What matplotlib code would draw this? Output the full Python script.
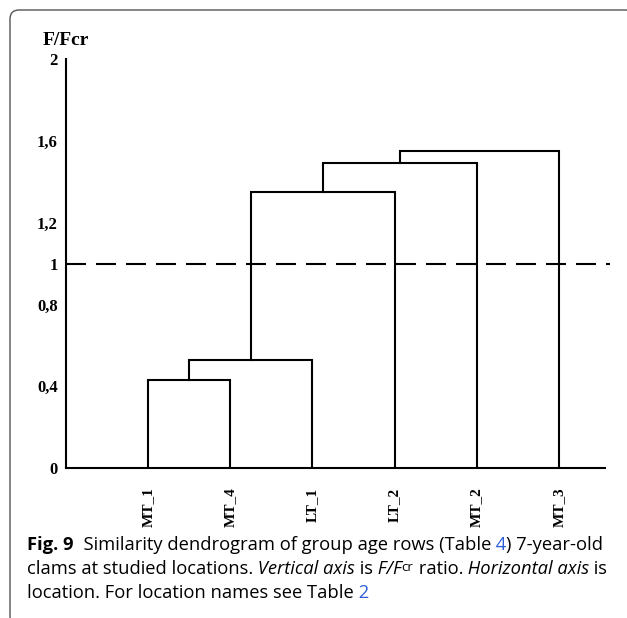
import matplotlib.pyplot as plt
from matplotlib.patches import FancyBboxPatch
from matplotlib.transforms import IdentityTransform

W, H = 627, 618

# leaves in dendrogram order and the merges (left id, right id, height)
leaves = ['MT_1', 'MT_4', 'LT_1', 'LT_2', 'MT_2', 'MT_3']
merges = [(0, 1, 0.43), (6, 2, 0.53), (7, 3, 1.35), (8, 4, 1.49), (9, 5, 1.55)]
yticks = [0, 0.4, 0.8, 1, 1.2, 1.6, 2]
ytick_labels = ['0', '0,4', '0,8', '1', '1,2', '1,6', '2']
threshold = 1.0

serif = 'Liberation Serif'
sans = 'Open Sans'
blue = '#2b5fd9'

fig = plt.figure(figsize=(W / 100, H / 100), dpi=100)
ax = fig.add_axes([66 / W, 1 - 468 / H, (605 - 66) / W, (468 - 59) / H])

# node positions: leaves first, then clusters
xs = [i + 1 for i in range(len(leaves))]
ys = [0.0] * len(leaves)
for a, b, h in merges:
    ax.plot([xs[a], xs[a], xs[b], xs[b]], [ys[a], h, h, ys[b]],
            color='black', lw=1.5, solid_joinstyle='miter')
    xs.append((xs[a] + xs[b]) / 2)
    ys.append(h)

ax.plot([0, 6.62], [threshold, threshold], color='black', lw=1.5,
        dashes=(9.6, 4.8), clip_on=False)

ax.set_xlim(0, 6.56)
ax.set_ylim(0, 2)
for s in ['top', 'right']:
    ax.spines[s].set_visible(False)
for s in ['left', 'bottom']:
    ax.spines[s].set_linewidth(1.5)
ax.set_yticks(yticks)
ax.set_yticklabels(ytick_labels, fontfamily=serif, fontweight='bold', fontsize=12)
ax.set_xticks(range(1, len(leaves) + 1))
ax.set_xticklabels(leaves, rotation=90, fontfamily=serif, fontweight='bold',
                   fontsize=11)
ax.tick_params(axis='y', length=0, pad=6)
ax.tick_params(axis='x', length=0, pad=14)
fig.text(43 / W, 1 - 45 / H, 'F/Fcr', fontfamily=serif, fontweight='bold',
         fontsize=14, ha='left', va='baseline')

# frame round the figure
frame = FancyBboxPatch((10, -8), 626, H - 10 + 8, boxstyle='round,pad=0,rounding_size=9',
                       transform=IdentityTransform(), fill=False,
                       edgecolor='#555555', lw=1.0)
fig.patches.append(frame)

# caption, placed run by run
fig.canvas.draw()
r = fig.canvas.get_renderer()
cs = 13.2


def put_line(x, y, runs):
    for s, kw in runs:
        kw = dict(kw)
        dy = kw.pop('dy', 0)
        t = fig.text(x / W, (H - y - dy) / H, s, fontfamily=sans, ha='left',
                     va='baseline', fontsize=kw.pop('size', cs), **kw)
        x += t.get_window_extent(r).width


put_line(27, 550, [('Fig. 9', dict(fontweight='bold')),
                   ('  Similarity dendrogram of group age rows (Table', {}),
                   (' 4', dict(color=blue)),
                   (') 7-year-old', {})])
put_line(27, 574, [('clams at studied locations.', {}),
                   (' Vertical axis', dict(fontstyle='italic')),
                   (' is', {}),
                   (' F/F', dict(fontstyle='italic')),
                   ('cr', dict(size=cs * 0.72, dy=-3)),
                   (' ratio.', {}),
                   (' Horizontal axis', dict(fontstyle='italic')),
                   (' is', {})])
put_line(27, 598, [('location. For location names see Table', {}),
                   (' 2', dict(color=blue))])

fig.savefig('out.png', dpi=100)
